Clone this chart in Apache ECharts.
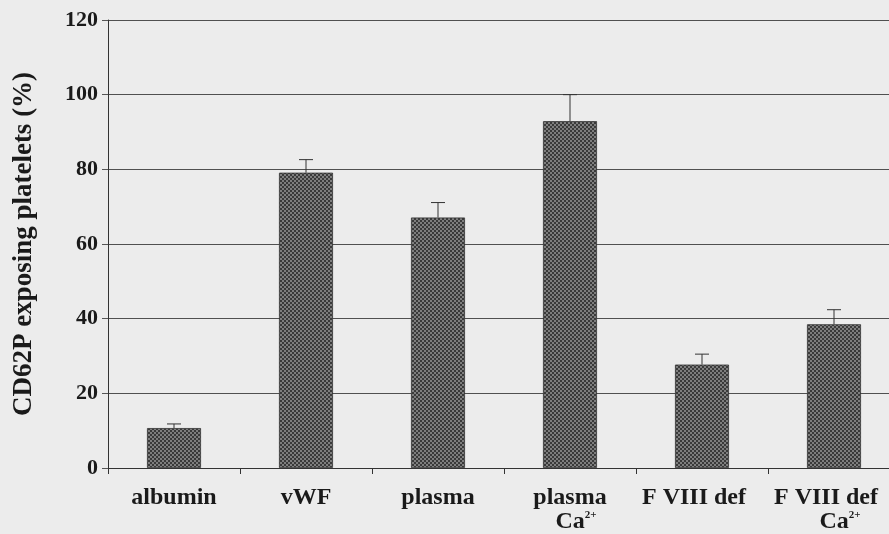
<!DOCTYPE html>
<html>
<head>
<meta charset="utf-8">
<script src="https://cdn.jsdelivr.net/npm/echarts@6/dist/echarts.min.js"></script>
<style>
html,body{margin:0;padding:0;background:#ececec;overflow:hidden;width:889px;height:534px;}
#c{width:910px;height:534px;}
</style>
</head>
<body>
<div id="c"></div>
<script>
const categories = ['albumin', 'vWF', 'plasma', 'plasma\nCa2+', 'F VIII def', 'F VIII def\nCa2+'];
const values = [10.7, 79.1, 67.1, 92.9, 27.7, 38.5];
const errors = [1.1, 3.5, 4.0, 7.1, 2.8, 3.9];
const yTicks = [0, 20, 40, 60, 80, 100, 120];
const yTitle = 'CD62P exposing platelets (%)';

// dithered fill like the scanned print
const pc = document.createElement('canvas');
pc.width = 4; pc.height = 4;
const pctx = pc.getContext('2d');
pctx.fillStyle = '#7e7e7e'; pctx.fillRect(0, 0, 4, 4);
pctx.fillStyle = '#3a3a3a';
pctx.fillRect(0, 0, 2, 2); pctx.fillRect(2, 2, 2, 2);

const FONT = '"Liberation Serif", "Times New Roman", serif';
const chart = echarts.init(document.getElementById('c'), null, {renderer: 'canvas'});

const errData = values.map((v, i) => [i, v, v + errors[i]]);
const txt = {fontFamily: FONT, fontWeight: 'bold', fontSize: 24, color: '#1a1a1a', lineHeight: 24};

chart.setOption({
  backgroundColor: '#ececec',
  animation: false,
  grid: {left: 108, width: 792, top: 20, bottom: 66, containLabel: false},
  xAxis: {
    type: 'category',
    data: categories,
    axisLine: {show: true, lineStyle: {color: '#333', width: 1}},
    axisTick: {show: true, length: 6, lineStyle: {color: '#333'}},
    axisLabel: {
      margin: 18,
      interval: 0,
      formatter: function (v) {
        const parts = v.split('\n');
        const key = parts[0].charAt(0) === 'F' ? 'nf' : 'n';
        let s = '{' + key + '|' + parts[0] + '}';
        if (parts.length > 1) s += '\n{ca|Ca}{sup|2+}';
        return s;
      },
      rich: {
        n: Object.assign({}, txt),
        nf: Object.assign({}, txt, {padding: [0, 16, 0, 0]}),
        ca: Object.assign({}, txt, {padding: [0, 0, 0, 12]}),
        sup: {fontFamily: FONT, fontWeight: 'bold', fontSize: 11, color: '#1a1a1a', lineHeight: 14, verticalAlign: 'top'}
      }
    }
  },
  yAxis: {
    type: 'value',
    min: 0, max: 120, interval: 20,
    name: yTitle,
    nameLocation: 'middle',
    nameGap: 70,
    nameTextStyle: {fontFamily: FONT, fontWeight: 'bold', fontSize: 27, color: '#1a1a1a'},
    axisLine: {show: true, lineStyle: {color: '#333', width: 1}},
    axisTick: {show: true, length: 6, lineStyle: {color: '#555'}},
    splitLine: {show: true, lineStyle: {color: '#505050', width: 1}},
    axisLabel: {
      margin: 10,
      fontFamily: FONT, fontWeight: 'bold', fontSize: 22, color: '#1a1a1a',
      formatter: function (v) { return yTicks.indexOf(v) >= 0 ? String(v) : ''; }
    }
  },
  series: [
    {
      type: 'bar',
      data: values,
      barWidth: 54,
      itemStyle: {color: {image: pc, repeat: 'repeat'}, borderColor: '#333', borderWidth: 0.8}
    },
    {
      type: 'custom',
      data: errData,
      z: 5,
      renderItem: function (params, api) {
        const x = api.value(0);
        const lo = api.coord([x, api.value(1)]);
        const hi = api.coord([x, api.value(2)]);
        const half = 7;
        const st = {stroke: '#333', lineWidth: 1};
        return {
          type: 'group',
          children: [
            {type: 'line', shape: {x1: lo[0], y1: lo[1], x2: hi[0], y2: hi[1]}, style: st},
            {type: 'line', shape: {x1: hi[0] - half, y1: hi[1], x2: hi[0] + half, y2: hi[1]}, style: st}
          ]
        };
      }
    }
  ]
});
</script>
</body>
</html>
